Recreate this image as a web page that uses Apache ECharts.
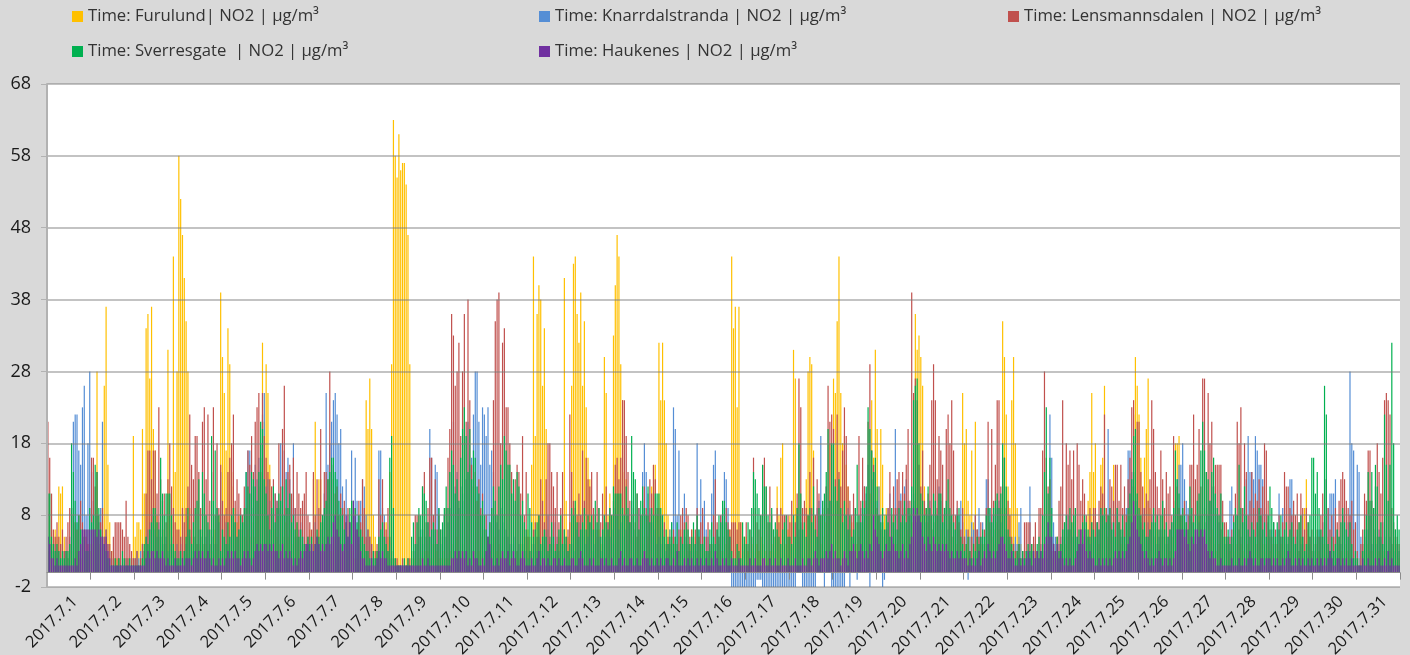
<!DOCTYPE html>
<html lang="en">
  <head>
    <meta charset="UTF-8" />
    <title>NO2 July 2017</title>
    <script src="https://cdn.jsdelivr.net/npm/echarts@6/dist/echarts.min.js"></script>
    <style>
      html, body { margin: 0; padding: 0; background: #d9d9d9; }
    </style>
  </head>
  <body>
    <div id="main" style="width: 1410px; height: 655px"></div>
    <script type="text/javascript">
      const seriesNames = [
        'Time: Furulund| NO2 | µg/m³',
        'Time: Knarrdalstranda | NO2 | µg/m³',
        'Time: Lensmannsdalen | NO2 | µg/m³',
        'Time: Sverresgate  | NO2 | µg/m³',
        'Time: Haukenes | NO2 | µg/m³',
      ];
      const seriesColors = ['#FFC000', '#558ED5', '#C0504D', '#00B050', '#7030A0'];
      const yTicks = [-2, 8, 18, 28, 38, 48, 58, 68];
      const dayLabels = [];
      for (let d = 1; d <= 31; d++) dayLabels.push('2017.7.' + d);

      // one row per day, 24 hourly readings
      const furulund = [
        [3,5,6,4,6,5,12,11,12,5,3,2,4,3,2,2,3,2,2,4,5,6,6,4],
        [6,4,5,28,4,5,9,26,37,15,7,3,3,2,2,2,1,1,1,2,2,1,2,19],
        [5,7,7,6,20,11,34,36,27,37,20,17,8,5,5,4,6,4,31,8,7,44,14,28],
        [58,52,47,41,35,28,9,6,5,5,4,4,5,6,4,4,3,4,5,3,6,4,8,39],
        [30,25,17,34,29,12,14,9,7,8,6,5,7,5,6,5,6,7,5,8,12,16,32,21],
        [29,25,15,9,8,6,5,4,8,6,5,7,5,6,4,3,5,7,5,3,4,3,4,5],
        [6,5,13,21,5,13,13,7,5,4,6,3,4,3,5,6,5,4,5,3,4,3,4,5],
        [3,2,2,4,5,6,8,24,20,27,20,8,5,3,2,2,3,5,7,5,14,29,63,58],
        [55,61,56,57,57,54,47,29,3,2,2,1,2,2,3,2,3,3,2,4,2,4,3,2],
        [2,2,3,2,2,3,4,2,3,5,3,3,4,3,2,2,1,3,2,3,2,3,5,3],
        [2,3,2,3,4,6,5,3,4,3,5,2,2,3,2,2,3,2,3,2,4,5,6,5],
        [6,5,15,44,19,36,40,38,26,34,20,6,5,4,3,4,3,5,6,4,41,10,5,7],
        [26,43,44,36,32,39,26,35,23,16,13,8,7,6,5,6,4,7,30,25,8,11,8,33],
        [40,47,44,29,24,14,13,8,7,5,8,6,5,6,8,4,5,3,5,8,12,15,15,8],
        [32,24,32,24,18,8,6,5,3,4,3,5,6,3,5,4,3,4,6,4,5,3,5,4],
        [3,4,3,2,3,4,3,5,3,4,3,2,3,4,5,6,44,34,37,23,37,7,3,5],
        [5,3,2,4,3,2,4,3,5,4,2,3,2,3,4,3,5,12,8,16,18,5,4,6],
        [8,7,31,27,9,5,6,7,5,13,28,30,29,17,8,6,5,4,3,5,7,9,18,10],
        [27,25,35,44,25,18,19,15,12,6,7,6,5,4,5,6,7,5,8,9,11,24,16,31],
        [20,12,20,15,8,9,6,5,7,8,6,4,6,8,5,7,9,6,5,7,10,36,31,33],
        [30,26,12,9,7,8,6,5,7,9,5,6,8,6,5,4,7,5,6,5,4,6,5,25],
        [18,20,10,8,17,7,21,6,5,4,3,5,4,3,6,5,4,6,7,6,9,35,30,22],
        [12,9,24,30,18,9,5,4,2,3,2,1,2,3,4,2,3,2,3,4,3,2,4,3],
        [2,3,4,5,3,4,5,6,4,5,6,7,8,5,3,4,6,8,5,6,10,14,25,14],
        [18,5,4,15,16,26,9,5,7,5,15,6,5,7,4,5,6,4,6,8,12,22,30,26],
        [22,16,8,16,20,27,9,6,7,5,6,4,5,8,6,5,4,3,5,7,18,18,19,8],
        [6,5,4,6,5,7,5,6,4,8,6,5,7,4,3,5,6,4,5,3,4,6,5,4],
        [5,4,3,4,5,3,4,6,4,3,5,2,4,3,5,6,5,4,6,5,4,3,4,5],
        [3,4,2,4,5,3,4,5,3,4,2,3,5,4,3,4,3,5,4,9,13,6,4,3],
        [2,3,4,3,2,4,3,4,5,3,2,4,3,2,4,3,2,3,4,3,2,1,1,2],
        [1,2,3,4,5,3,4,3,3,6,4,5,3,4,3,4,3,2,3,4,5,4,4,2],
      ];
      const knarrdalstranda = [
        [5,4,3,3,4,3,3,2,4,3,3,2,5,9,21,22,22,17,15,23,26,8,18,28],
        [14,10,6,8,7,9,21,5,6,4,3,2,2,1,1,2,1,2,1,2,2,1,1,2],
        [2,3,2,3,4,3,5,6,7,9,8,6,5,7,5,6,4,5,3,4,5,3,2,4],
        [3,4,5,3,4,6,5,4,3,5,4,6,5,3,4,5,6,4,5,6,4,9,7,14],
        [6,5,7,4,5,6,9,7,5,6,8,6,7,14,17,17,9,12,15,13,16,18,22,25],
        [12,13,10,9,8,11,10,9,18,12,17,14,16,13,9,18,9,5,6,7,6,5,4,5],
        [5,4,6,7,5,4,6,8,11,25,15,18,21,24,25,22,18,20,12,9,13,8,7,17],
        [9,16,10,8,10,13,12,8,6,5,4,3,2,2,17,17,9,8,5,3,2,2,1,1],
        [1,1,1,1,1,1,1,1,1,2,3,4,5,6,4,6,5,7,20,16,8,15,14,9],
        [4,6,8,5,7,9,15,21,12,14,9,12,11,10,13,21,15,16,22,28,28,21,15,23],
        [22,19,23,15,17,14,8,7,6,9,8,7,6,5,4,3,4,5,3,4,2,3,4,3],
        [2,3,2,3,4,3,5,3,4,5,6,8,5,6,8,7,5,3,4,5,3,4,3,2],
        [4,5,3,6,7,8,5,6,4,5,7,6,3,4,6,5,3,4,6,5,7,5,6,4],
        [9,8,6,7,5,8,6,8,7,10,8,6,5,9,8,14,18,14,11,9,7,5,6,4],
        [5,4,6,5,3,4,6,7,23,20,8,17,5,6,11,5,4,3,5,3,4,18,6,13],
        [8,10,6,5,4,11,15,17,6,5,8,9,14,13,9,5,-2,-2,-2,-2,-2,-2,-2,-2],
        [-2,-2,-2,-2,-2,-2,-1,-1,-1,-2,-2,-2,-2,-2,-2,-2,-2,-2,-2,-2,-2,-2,-2,-2],
        [-2,-2,-2,-2,8,6,7,-2,-2,-2,-2,-2,-2,-2,-2,9,10,19,8,-2,12,9,10,-2],
        [-2,-2,-2,-2,-2,-2,-2,8,9,-2,5,6,8,-1,7,9,8,12,11,15,-2,13,10,14],
        [10,12,8,-2,-1,6,9,11,7,6,20,9,10,11,9,12,13,10,8,9,11,10,7,8],
        [6,8,9,7,8,10,6,7,8,9,12,10,8,7,9,6,8,5,7,6,9,8,10,7],
        [5,6,-1,5,7,6,8,6,9,5,7,4,13,13,9,8,6,8,9,10,7,8,12,6],
        [5,4,3,4,5,4,7,9,3,2,3,2,12,3,2,4,3,2,4,3,2,3,2,22],
        [16,7,5,3,4,5,6,5,7,8,6,5,7,6,5,4,6,5,8,6,5,4,6,5],
        [5,7,6,9,8,9,8,20,9,7,6,8,9,7,5,6,8,9,17,17,14,12,9,10],
        [8,7,9,6,5,7,6,8,5,6,4,5,6,5,6,4,5,6,7,8,9,13,15,15],
        [18,13,10,9,8,7,5,6,4,7,8,6,9,7,8,10,12,11,9,8,7,6,5,4],
        [4,5,10,12,7,6,8,6,5,9,7,13,19,14,14,13,19,17,15,15,13,9,8,7],
        [5,6,7,4,6,11,5,9,9,5,4,13,13,6,4,5,3,4,5,4,3,4,5,3],
        [3,4,5,6,5,7,8,13,9,11,11,11,13,6,5,4,8,9,6,7,28,18,17,7],
        [15,14,5,4,6,5,6,8,4,6,5,4,6,5,7,6,5,3,5,4,3,5,4,3],
      ];
      const lensmannsdalen = [
        [21,16,11,6,5,7,5,4,6,3,5,7,9,9,8,7,6,8,10,7,6,5,4,3],
        [16,16,12,14,8,7,9,5,6,4,4,3,5,7,7,7,7,6,5,10,5,4,3,2],
        [2,3,1,2,4,3,11,17,17,13,17,17,11,23,13,10,11,7,13,18,12,9,7,6],
        [6,5,9,7,9,12,22,15,13,19,19,14,9,21,23,13,22,10,14,23,8,18,9,15],
        [10,8,9,14,16,18,22,10,13,11,9,8,12,9,17,15,19,14,21,23,25,14,25,19],
        [16,14,13,12,13,11,10,18,12,20,26,9,14,15,11,16,9,14,11,9,10,11,14,8],
        [7,6,14,8,13,9,20,7,14,14,13,28,15,13,11,12,8,11,9,10,7,9,7,10],
        [8,9,6,10,7,13,9,5,6,5,4,3,3,4,13,8,13,7,6,9,5,3,2,2],
        [2,1,1,2,1,1,2,2,1,3,8,8,8,5,12,14,7,9,16,16,8,13,6,8],
        [6,5,8,9,16,20,36,33,26,28,32,19,28,36,21,38,24,15,12,14,10,13,9,11],
        [6,8,5,7,9,24,35,38,39,18,32,34,23,23,18,14,11,13,15,14,11,19,8,14],
        [5,3,4,6,7,5,8,13,10,7,13,18,18,14,12,9,14,7,9,14,6,5,6,22],
        [14,10,9,8,11,8,17,10,16,13,12,14,9,8,14,9,7,11,8,12,7,9,8,10],
        [15,16,13,16,24,24,19,14,10,8,9,7,11,9,8,10,12,9,8,13,11,15,13,9],
        [9,8,6,7,4,5,4,5,6,5,4,6,8,9,7,9,8,5,6,4,6,9,5,7],
        [9,5,5,7,4,4,8,13,7,5,8,5,7,9,7,6,7,7,7,6,7,7,5,4],
        [7,4,6,5,16,9,7,6,8,15,16,12,7,12,8,6,5,9,7,9,8,8,8,8],
        [7,10,8,7,11,27,23,9,10,9,8,14,9,16,8,13,11,8,9,10,12,26,21,22],
        [20,13,22,14,12,17,23,19,12,10,8,11,9,7,19,10,16,12,10,21,29,17,15,14],
        [9,8,6,7,5,6,9,14,8,12,9,13,14,10,14,11,15,20,10,39,25,27,24,15],
        [12,17,10,9,11,15,24,29,24,13,19,17,15,9,20,22,18,24,17,8,10,7,6,9],
        [5,4,6,3,5,4,8,6,5,7,4,6,9,21,7,20,10,15,24,24,12,16,16,9],
        [10,8,5,4,3,3,4,2,3,7,7,7,7,4,5,7,3,9,9,17,28,16,12,13],
        [3,4,3,5,10,12,24,7,18,15,17,13,17,9,18,15,10,13,11,8,5,9,7,9],
        [9,7,10,12,11,22,9,8,13,12,10,15,15,10,15,9,12,8,13,16,23,24,14,21],
        [21,14,12,9,11,10,13,24,20,14,12,9,17,13,9,14,11,12,8,19,10,12,9,8],
        [9,10,7,8,15,15,22,13,15,20,12,27,27,14,25,18,21,12,15,15,15,15,10,7],
        [7,5,5,6,8,11,21,18,23,9,18,14,8,10,14,9,11,10,13,9,12,18,17,10],
        [6,5,7,6,4,8,5,7,14,12,12,9,8,10,8,11,7,11,9,6,9,7,5,6],
        [5,4,6,5,8,11,7,13,9,6,8,5,9,7,10,13,14,13,10,9,8,10,6,7],
        [3,1,4,6,11,10,17,17,10,9,12,18,14,11,16,24,25,24,22,9,7,6,5,4],
      ];
      const sverresgate = [
        [11,11,5,4,3,4,3,2,3,2,3,3,4,18,14,10,7,8,6,6,5,3,3,9],
        [7,8,15,14,9,6,5,4,3,2,1,1,1,2,1,2,1,3,2,1,1,2,1,1],
        [1,1,1,1,2,4,5,4,6,7,9,9,7,6,16,11,8,11,11,11,8,4,3,2],
        [2,3,2,3,5,9,6,4,7,9,10,13,6,14,11,8,7,6,19,10,17,9,8,3],
        [6,5,4,7,5,8,9,7,5,6,8,7,9,14,12,11,14,13,12,10,14,21,20,13],
        [11,8,6,9,12,7,9,11,10,12,8,13,9,11,7,8,6,7,5,6,5,4,3,5],
        [4,5,3,4,6,5,7,8,9,10,13,14,16,16,14,13,10,9,8,6,7,5,9,10],
        [10,9,7,8,6,5,4,3,3,2,2,3,2,3,5,6,7,5,4,3,16,19,9,2],
        [1,1,1,1,2,1,2,1,5,7,4,7,9,8,12,11,10,7,5,6,7,6,4,9],
        [6,7,9,12,9,14,17,15,11,13,10,16,20,23,19,14,20,13,17,16,12,11,8,10],
        [8,6,5,7,9,12,10,8,12,15,13,19,17,15,15,11,13,10,14,12,8,10,7,6],
        [11,9,7,5,6,7,8,4,5,6,5,3,4,7,5,3,4,6,8,4,6,5,3,4],
        [9,8,10,7,5,6,7,9,6,8,7,8,6,10,7,9,5,6,8,7,6,9,8,12],
        [11,11,11,11,9,8,12,9,7,19,14,13,11,6,10,12,9,8,12,7,9,8,11,11],
        [11,9,8,5,6,4,5,7,4,5,7,3,5,4,6,7,6,4,5,7,4,8,6,4],
        [4,5,3,3,6,7,5,4,6,8,7,10,10,7,6,5,3,2,2,4,3,2,7,5],
        [4,7,6,9,14,13,11,9,8,15,12,12,8,7,9,6,7,6,5,4,6,7,8,5],
        [5,4,8,5,9,18,11,6,7,5,8,9,7,12,6,5,9,8,10,11,14,20,10,18],
        [18,12,10,13,9,7,10,8,6,8,5,6,9,15,8,7,10,9,12,23,20,17,14,16],
        [12,8,7,9,6,8,7,5,9,7,8,6,9,7,8,10,7,9,9,12,24,26,27,18],
        [11,10,8,9,12,9,8,11,10,8,11,11,7,9,10,13,9,8,7,6,8,9,5,4],
        [3,4,5,3,2,4,3,5,4,5,6,5,8,9,9,7,9,10,11,9,11,18,16,12],
        [6,5,4,3,2,3,4,2,3,2,3,4,3,4,3,2,4,5,3,8,14,23,11,16],
        [9,4,3,5,3,4,6,7,8,6,9,7,8,9,5,6,4,7,8,7,6,5,7,6],
        [5,7,6,9,8,9,7,8,9,6,7,5,9,7,6,8,5,7,9,11,13,19,20,11],
        [9,8,6,7,5,5,6,7,9,7,8,6,8,10,6,7,5,6,7,9,17,13,11,8],
        [9,8,7,6,12,9,7,8,10,11,17,21,17,14,13,10,14,16,11,9,8,11,7,5],
        [5,6,4,5,7,9,8,15,9,7,12,8,6,5,7,6,5,7,9,8,6,7,5,8],
        [12,9,7,5,7,6,8,5,6,7,5,6,7,5,4,6,7,8,5,3,4,7,8,16],
        [16,11,14,9,6,5,26,22,4,3,5,3,4,6,5,7,9,7,6,5,7,4,2,3],
        [2,1,1,3,6,8,14,10,14,9,15,12,5,7,4,22,15,10,15,32,18,6,8,6],
      ];
      const haukenes = [
        [5,4,2,2,1,2,1,1,1,1,1,1,1,1,1,2,1,3,4,6,6,6,6,6],
        [6,6,6,5,6,5,5,4,5,3,2,1,1,1,1,1,1,1,1,1,1,1,1,1],
        [1,1,1,1,1,1,2,3,2,3,3,2,3,2,2,3,2,1,2,1,1,1,2,1],
        [1,1,2,1,2,2,2,1,2,3,2,3,2,3,2,2,3,2,1,2,1,1,2,1],
        [2,1,2,3,2,3,2,3,2,2,1,2,3,2,3,2,1,2,3,4,3,4,3,4],
        [4,3,4,3,4,3,3,2,3,4,2,3,2,3,2,1,2,1,2,3,2,3,4,4],
        [3,4,3,4,5,4,3,4,3,4,5,4,5,7,8,6,5,4,3,4,8,5,7,4],
        [10,8,6,5,3,2,2,1,1,1,2,1,1,2,3,2,3,2,2,1,1,1,1,1],
        [1,1,1,1,1,1,1,1,1,1,1,1,1,1,2,1,1,2,1,1,1,1,1,1],
        [1,1,1,1,1,1,2,2,3,2,3,2,3,2,3,1,2,1,3,2,2,1,1,2],
        [1,3,5,4,2,1,1,2,1,2,3,2,2,3,1,2,3,2,1,1,2,3,2,1],
        [1,1,2,1,1,2,3,1,2,2,1,2,1,1,2,2,1,2,1,1,2,1,1,1],
        [2,2,1,1,2,3,2,1,1,1,2,1,2,1,1,1,2,2,1,2,1,1,2,1],
        [1,1,2,3,1,2,1,1,2,2,1,1,2,1,1,2,3,2,2,1,2,1,1,2],
        [1,2,1,1,2,2,1,1,2,1,3,1,1,1,2,1,2,1,2,1,1,2,1,2],
        [1,1,2,1,1,2,1,3,2,1,1,2,1,2,1,1,2,1,1,1,2,1,1,1],
        [1,1,2,1,1,2,1,1,1,2,2,1,1,2,1,1,2,1,1,2,1,1,1,2],
        [1,1,1,2,1,1,1,2,1,1,2,2,1,2,3,2,1,2,2,2,3,2,3,4],
        [2,3,2,2,1,2,3,2,1,3,3,4,3,2,3,4,3,2,3,2,4,3,8,6],
        [5,4,3,2,3,4,3,3,5,4,3,3,2,3,4,2,3,2,4,5,9,8,9,8],
        [7,5,4,3,5,4,3,5,4,3,4,3,4,3,4,3,2,3,2,2,3,2,3,2],
        [2,2,1,2,1,2,1,2,3,1,2,3,2,4,3,2,3,2,3,4,5,5,4,3],
        [2,2,3,2,1,1,2,1,2,1,2,3,2,1,3,2,3,2,3,2,4,5,7,5],
        [5,4,3,4,2,3,2,1,2,1,2,1,1,2,3,4,6,4,6,3,2,3,2,2],
        [1,1,2,1,2,1,2,1,2,1,2,3,2,3,2,3,2,3,4,5,7,10,8,6],
        [5,4,3,2,3,2,1,2,1,2,2,3,2,1,2,2,1,2,1,2,3,6,6,6],
        [6,5,6,4,3,5,4,6,6,5,6,5,6,4,3,2,3,2,2,1,1,2,1,1],
        [1,1,1,2,1,1,1,2,1,1,2,1,2,3,2,1,2,1,1,2,2,1,2,2],
        [2,1,2,1,2,1,1,2,1,2,3,2,1,1,2,1,2,1,2,1,1,2,1,2],
        [1,1,2,1,2,1,2,1,2,3,2,1,1,2,2,1,2,1,2,1,1,2,1,1],
        [1,1,1,2,1,1,2,1,1,1,2,1,2,1,1,2,1,3,1,2,1,1,1,1],
      ];

      const hourly = (rows) =>
        rows.flatMap((row) => Array.from({ length: 24 }, (_, h) => (row[h] === undefined ? null : row[h])));
      const categories = dayLabels.flatMap((day) => Array(24).fill(day));
      const allRows = [furulund, knarrdalstranda, lensmannsdalen, sverresgate, haukenes];

      const axisGray = '#b2b2b2';
      const legendSpots = [
        { left: 72, top: 8 },
        { left: 539, top: 8 },
        { left: 1008, top: 8 },
        { left: 72, top: 43 },
        { left: 539, top: 43 },
      ];

      const myChart = echarts.init(document.getElementById('main'));
      const option = {
        animation: false,
        backgroundColor: '#d9d9d9',
        legend: seriesNames.map((name, i) => ({
          data: [name],
          left: legendSpots[i].left,
          top: legendSpots[i].top,
          selectedMode: false,
          icon: 'rect',
          itemWidth: 11,
          itemHeight: 11,
          itemGap: 0,
          padding: 0,
          textStyle: { fontFamily: 'Open Sans', fontSize: 16.7, color: '#333' },
        })),
        grid: {
          left: 47,
          right: 10,
          top: 84,
          bottom: 68,
          outerBoundsMode: 'none',
          show: true,
          backgroundColor: '#fff',
          borderWidth: 0,
        },
        xAxis: {
          type: 'category',
          data: categories,
          position: 'bottom',
          z: 3,
          // the line sits on zero, the labels stay below the plot
          axisLine: { onZero: true, lineStyle: { color: '#8c8c8c', width: 1 } },
          axisTick: {
            show: true,
            length: 7,
            interval: (index) => index % 24 === 0 && index > 0,
            lineStyle: { color: '#8c8c8c', width: 1 },
          },
          splitLine: { show: false },
          axisLabel: {
            interval: (index) => index % 24 === 15,
            rotate: 45,
            margin: 12,
            fontFamily: 'Open Sans',
            fontSize: 16.5,
            color: '#1a1a1a',
          },
        },
        yAxis: {
          type: 'value',
          min: -2,
          max: 68,
          z: 3,
          axisLine: { show: true, lineStyle: { color: axisGray, width: 2 } },
          axisTick: { show: true, length: 6, customValues: yTicks, lineStyle: { color: axisGray } },
          axisLabel: {
            customValues: yTicks,
            margin: 16,
            fontFamily: 'Open Sans',
            fontSize: 18,
            color: '#1a1a1a',
          },
          splitLine: { show: true, lineStyle: { color: 'rgba(120,120,120,0.6)', width: 1.5 } },
        },
        series: seriesNames.map((name, i) => ({
          name,
          type: 'bar',
          data: hourly(allRows[i]),
          barWidth: 1.2,
          barGap: '-100%',
          itemStyle: { color: seriesColors[i] },
        })),
      };
      myChart.setOption(option);
    </script>
  </body>
</html>
